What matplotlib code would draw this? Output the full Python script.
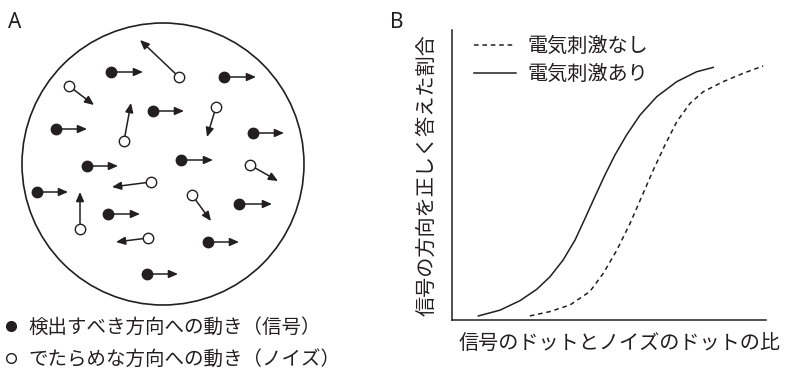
import matplotlib
matplotlib.use('Agg')
import matplotlib.pyplot as plt
from matplotlib.patches import Circle, FancyArrowPatch, ArrowStyle
from matplotlib.lines import Line2D

plt.rcParams['font.family'] = ['Noto Sans CJK JP', 'DejaVu Sans']
INK = '#231f20'

# パネルA: ドットの位置（ピクセル座標）と矢印の先端
sig_x = [111, 224, 153, 56, 253, 181, 87, 37, 239, 108, 208, 147]
sig_y = [72, 77, 111, 129, 133, 160, 166, 192, 204, 214, 242, 274]
sig_tip_x = [143, 256, 184, 87, 284, 213, 118, 68, 272, 140, 239, 178]

noise_x = [179, 69, 124, 216, 250, 151, 192, 80, 148]
noise_y = [77, 86, 141, 107, 165, 182, 195, 229, 238]
noise_tip_x = [140, 94, 131, 207, 278, 112, 211, 80, 116]
noise_tip_y = [40, 105, 103, 137, 181, 187, 221, 192, 242]

# パネルB: 心理測定曲線
stim_x = [8.4, 15.3, 21.7, 27.0, 31.2, 35.4, 39.2, 42.4, 45.5, 48.7, 51.9,
          55.6, 59.9, 65.2, 71.6, 77.9, 83.2]
stim_y = [1.4, 3.4, 6.7, 10.6, 14.9, 20.7, 27.6, 35.1, 42.5, 50.0, 56.9,
          63.8, 70.7, 77.0, 82.2, 85.6, 87.1]
nostim_x = [24.8, 31.2, 37.6, 43.9, 48.2, 52.5, 56.7, 60.4, 64.1, 67.8, 71.6,
            75.8, 80.0, 86.4, 92.8, 99.1]
nostim_y = [1.4, 2.9, 5.2, 9.8, 16.1, 24.1, 33.3, 42.5, 51.7, 60.3, 68.4,
            74.7, 78.7, 82.2, 85.1, 87.6]

W, H = 788, 378
fig = plt.figure(figsize=(W / 100, H / 100), dpi=100)

# ---- A ----
ax_a = fig.add_axes([0, 0, 1, 1])
ax_a.set_xlim(0, W)
ax_a.set_ylim(H, 0)
ax_a.axis('off')
ax_a.set_facecolor('none')

ax_a.add_patch(Circle((163, 164), 141, fill=False, ec=INK, lw=1.2))

style = ArrowStyle('-|>', head_length=5.5, head_width=2.4)
for x, y, tx in zip(sig_x, sig_y, sig_tip_x):
    ax_a.add_patch(FancyArrowPatch((x, y), (tx, y), arrowstyle=style,
                                   mutation_scale=1, shrinkA=0, shrinkB=0,
                                   color=INK, lw=1.1))
for x, y, tx, ty in zip(noise_x, noise_y, noise_tip_x, noise_tip_y):
    ax_a.add_patch(FancyArrowPatch((x, y), (tx, ty), arrowstyle=style,
                                   mutation_scale=1, shrinkA=0, shrinkB=0,
                                   color=INK, lw=1.1))

ax_a.plot(sig_x, sig_y, 'o', ms=7.5, mfc=INK, mec=INK, ls='none', zorder=5)
ax_a.plot(noise_x, noise_y, 'o', ms=7.5, mfc='white', mec=INK, mew=1.0,
          ls='none', zorder=5)

ax_a.text(8, 22, 'A', fontsize=15, family='Noto Sans', weight='semibold',
          color=INK, va='center', ha='left')

handles = [Line2D([], [], marker='o', ls='none', ms=7, mfc=INK, mec=INK),
           Line2D([], [], marker='o', ls='none', ms=7, mfc='white', mec=INK,
                  mew=1.0)]
ax_a.legend(handles, ['検出すべき方向への動き（信号）',
                      'でたらめな方向への動き（ノイズ）'],
            loc='upper left', bbox_to_anchor=(6 / W, 1 - 317 / H),
            frameon=False, fontsize=14, handlelength=0.5,
            handletextpad=0.65, labelspacing=0.55, borderpad=0,
            borderaxespad=0, labelcolor=INK)

# ---- B ----
ax_b = fig.add_axes([452 / W, (H - 320) / H, 314 / W, 290 / H])
ax_b.plot(nostim_x, nostim_y, color=INK, lw=1.1, ls=(0, (3, 2.5)),
          label='電気刺激なし')
ax_b.plot(stim_x, stim_y, color=INK, lw=1.1, label='電気刺激あり')
ax_b.set_xlim(0, 100)
ax_b.set_ylim(0, 100)
ax_b.set_xticks([])
ax_b.set_yticks([])
for s in ['top', 'right']:
    ax_b.spines[s].set_visible(False)
for s in ['left', 'bottom']:
    ax_b.spines[s].set_linewidth(1.1)
    ax_b.spines[s].set_color(INK)

ax_b.set_xlabel('信号のドットとノイズのドットの比', fontsize=14.5, color=INK,
                ha='center', va='center')
ax_b.xaxis.set_label_coords((620 - 452) / 314, -(344 - 320) / 290)
ax_b.set_ylabel('信号の方向を正しく答えた割合', fontsize=14.5, color=INK,
                ha='center', va='center')
ax_b.yaxis.set_label_coords(-(452 - 427) / 314, 0.5)

ax_b.legend(loc='upper left', bbox_to_anchor=(474 / W, 1 - 36 / H),
            bbox_transform=fig.transFigure, frameon=False, fontsize=14.5,
            handlelength=2.1, handletextpad=0.55, labelspacing=0.35,
            borderpad=0, borderaxespad=0, labelcolor=INK)

fig.text(390 / W, 1 - 22 / H, 'B', fontsize=15, family='Noto Sans',
         weight='semibold', color=INK, va='center', ha='left')

fig.savefig('out.png', dpi=100)
